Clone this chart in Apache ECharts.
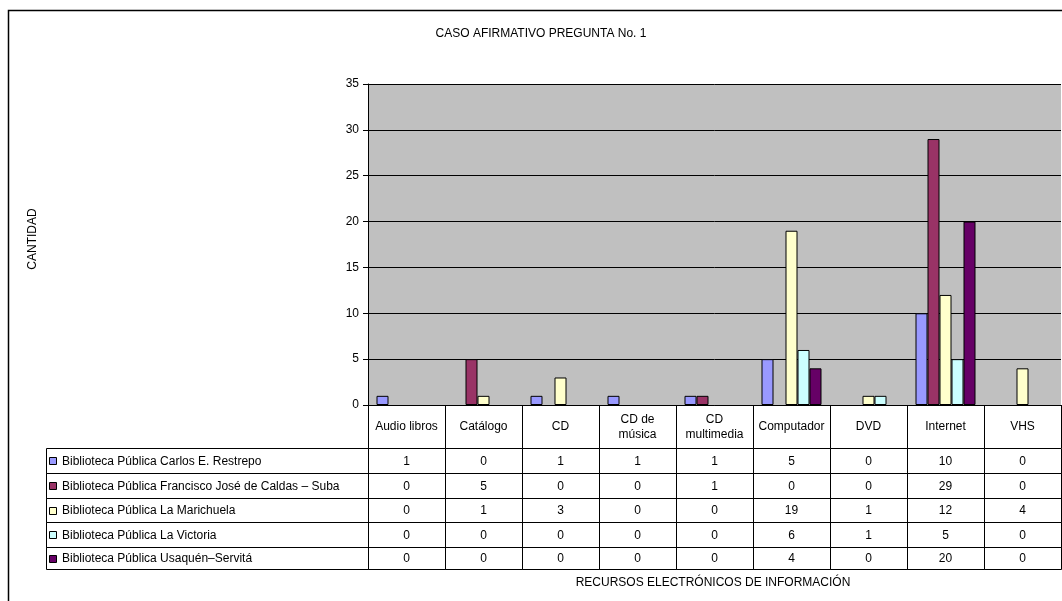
<!DOCTYPE html>
<html><head><meta charset="utf-8">
<script src="https://cdn.jsdelivr.net/npm/echarts@6/dist/echarts.min.js"></script>
<style>html,body{margin:0;padding:0;background:#fff}#c{width:1062px;height:601px}</style>
</head><body><div id="c"></div>
<script>
// ---- data ----
const categories = ['Audio libros', 'Catálogo', 'CD', 'CD de\nmúsica', 'CD\nmultimedia', 'Computador', 'DVD', 'Internet', 'VHS'];
const seriesNames = [
  'Biblioteca Pública Carlos E. Restrepo',
  'Biblioteca Pública Francisco José de Caldas – Suba',
  'Biblioteca Pública La Marichuela',
  'Biblioteca Pública La Victoria',
  'Biblioteca Pública Usaquén–Servitá'
];
const carlosRestrepo      = [1, 0, 1, 1, 1, 5, 0, 10, 0];
const franciscoJoseCaldas = [0, 5, 0, 0, 1, 0, 0, 29, 0];
const laMarichuela        = [0, 1, 3, 0, 0, 19, 1, 12, 4];
const laVictoria          = [0, 0, 0, 0, 0, 6, 1, 5, 0];
const usaquenServita      = [0, 0, 0, 0, 0, 4, 0, 20, 0];
const yMin = 0, yMax = 35, yStep = 5;
const titleText = 'CASO AFIRMATIVO PREGUNTA No. 1';
const yTitle = 'CANTIDAD';
const xTitle = 'RECURSOS ELECTRÓNICOS DE INFORMACIÓN';

// ---- style / layout ----
const seriesValues = [carlosRestrepo, franciscoJoseCaldas, laMarichuela, laVictoria, usaquenServita];
const colors = ['#9999FF', '#993366', '#FFFFCC', '#CCFFFF', '#660066'];
const FONT = '"Liberation Sans", Arial, sans-serif';
const GRID_LEFT = 368, GRID_TOP = 84, GRID_RIGHT = 1, GRID_BOTTOM = 196;
const AXIS_Y = 601 - GRID_BOTTOM;         // 405
const HEADER_BOTTOM = 448;
const ROW_EDGES = [448, 473, 497.5, 522, 546.5, 569];
const LEGEND_LEFT = 46;

const chart = echarts.init(document.getElementById('c'), null, {renderer: 'canvas'});

const barSeries = seriesValues.map((vals, s) => ({
  name: seriesNames[s],
  type: 'bar',
  barWidth: 12,
  barGap: '0%',
  itemStyle: {color: colors[s], borderColor: '#000', borderWidth: 1},
  data: vals.map(v => v === 0 ? {value: v, itemStyle: {borderWidth: 0}} : v),
  z: 3
}));

const tableData = [];
seriesValues.forEach((vals, r) => vals.forEach((v, i) => tableData.push([i, r, v])));

const headerSeries = {
  name: 'header', type: 'custom', silent: true, z: 4,
  data: categories.map((c, i) => [i, 0]),
  renderItem(params, api) {
    const cx = api.coord([api.value(0), 0])[0];
    const w = api.size([1, 0])[0];
    const x0 = Math.round(cx - w / 2) + 0.5;
    const x1 = Math.round(cx + w / 2) + 0.5;
    return {type: 'group', children: [
      {type: 'line', shape: {x1: x0, y1: AXIS_Y, x2: x0, y2: HEADER_BOTTOM}, style: {stroke: '#000', lineWidth: 1}},
      {type: 'line', shape: {x1: x1, y1: AXIS_Y, x2: x1, y2: HEADER_BOTTOM}, style: {stroke: '#000', lineWidth: 1}}
    ]};
  }
};

const tableSeries = {
  name: 'table', type: 'custom', silent: true, z: 4,
  data: tableData,
  renderItem(params, api) {
    const i = api.value(0), r = api.value(1), v = api.value(2);
    const cx = api.coord([i, 0])[0];
    const w = api.size([1, 0])[0];
    const x0 = Math.round(cx - w / 2) + 0.5;
    const x1 = Math.round(cx + w / 2) + 0.5;
    const y0 = Math.round(ROW_EDGES[r]) + 0.5, y1 = Math.round(ROW_EDGES[r + 1]) + 0.5;
    return {type: 'group', children: [
      {type: 'rect', shape: {x: x0, y: y0, width: x1 - x0, height: y1 - y0}, style: {fill: 'none', stroke: '#000', lineWidth: 1}},
      {type: 'text', style: {text: String(v), x: cx, y: (y0 + y1) / 2 + 0.5, align: 'center', verticalAlign: 'middle', font: '12px ' + FONT, fill: '#000'}}
    ]};
  }
};

const legendSeries = {
  name: 'legendcol', type: 'custom', silent: true, z: 4,
  data: seriesNames.map((n, r) => [0, r]),
  renderItem(params, api) {
    const r = api.value(1);
    const gl = Math.round(api.coord([0, 0])[0] - api.size([1, 0])[0] / 2) + 0.5;
    const y0 = Math.round(ROW_EDGES[r]) + 0.5, y1 = Math.round(ROW_EDGES[r + 1]) + 0.5;
    const cy = (y0 + y1) / 2;
    return {type: 'group', children: [
      {type: 'rect', shape: {x: LEGEND_LEFT + 0.5, y: y0, width: gl - LEGEND_LEFT - 0.5, height: y1 - y0}, style: {fill: 'none', stroke: '#000', lineWidth: 1}},
      {type: 'rect', shape: {x: 49.5, y: Math.round(cy - 4) + 0.5, width: 7, height: 7}, style: {fill: colors[r], stroke: '#000', lineWidth: 1}},
      {type: 'text', style: {text: seriesNames[r], x: 62, y: cy + 0.5, align: 'left', verticalAlign: 'middle', font: '12px ' + FONT, fill: '#000'}}
    ]};
  }
};

const option = {
  animation: false,
  backgroundColor: '#fff',
  textStyle: {fontFamily: FONT},
  grid: {left: GRID_LEFT, top: GRID_TOP, right: GRID_RIGHT, bottom: GRID_BOTTOM, show: true, backgroundColor: '#C0C0C0', borderWidth: 0, containLabel: false},
  xAxis: {
    type: 'category', data: categories,
    axisLine: {show: true, lineStyle: {color: '#000', width: 1}},
    axisTick: {show: false},
    axisLabel: {interval: 0, margin: 22, verticalAlign: 'middle', lineHeight: 15, fontSize: 12, color: '#000', fontFamily: FONT},
    splitLine: {show: false}
  },
  yAxis: {
    type: 'value', min: yMin, max: yMax, interval: yStep,
    axisLine: {show: true, lineStyle: {color: '#000', width: 1}},
    axisTick: {show: true, length: 5, lineStyle: {color: '#000'}},
    axisLabel: {fontSize: 12, color: '#000', margin: 9, fontFamily: FONT},
    splitLine: {show: true, lineStyle: {color: '#000', width: 1}}
  },
  series: [...barSeries, headerSeries, tableSeries, legendSeries],
  graphic: [
    {type: 'rect', silent: true, shape: {x: 8.5, y: 10.5, width: 1200, height: 800}, style: {fill: 'none', stroke: '#000', lineWidth: 1.5}, z: 10},
    {type: 'text', silent: true, style: {text: titleText, x: 541, y: 34, align: 'center', verticalAlign: 'middle', font: '12px ' + FONT, fill: '#000'}},
    {type: 'text', silent: true, rotation: Math.PI / 2, x: 33, y: 239, style: {text: yTitle, x: 0, y: 0, align: 'center', verticalAlign: 'middle', font: '12px ' + FONT, fill: '#000'}},
    {type: 'text', silent: true, style: {text: xTitle, x: 713, y: 583, align: 'center', verticalAlign: 'middle', font: '12px ' + FONT, fill: '#000'}}
  ]
};
chart.setOption(option);
</script>
</body></html>
